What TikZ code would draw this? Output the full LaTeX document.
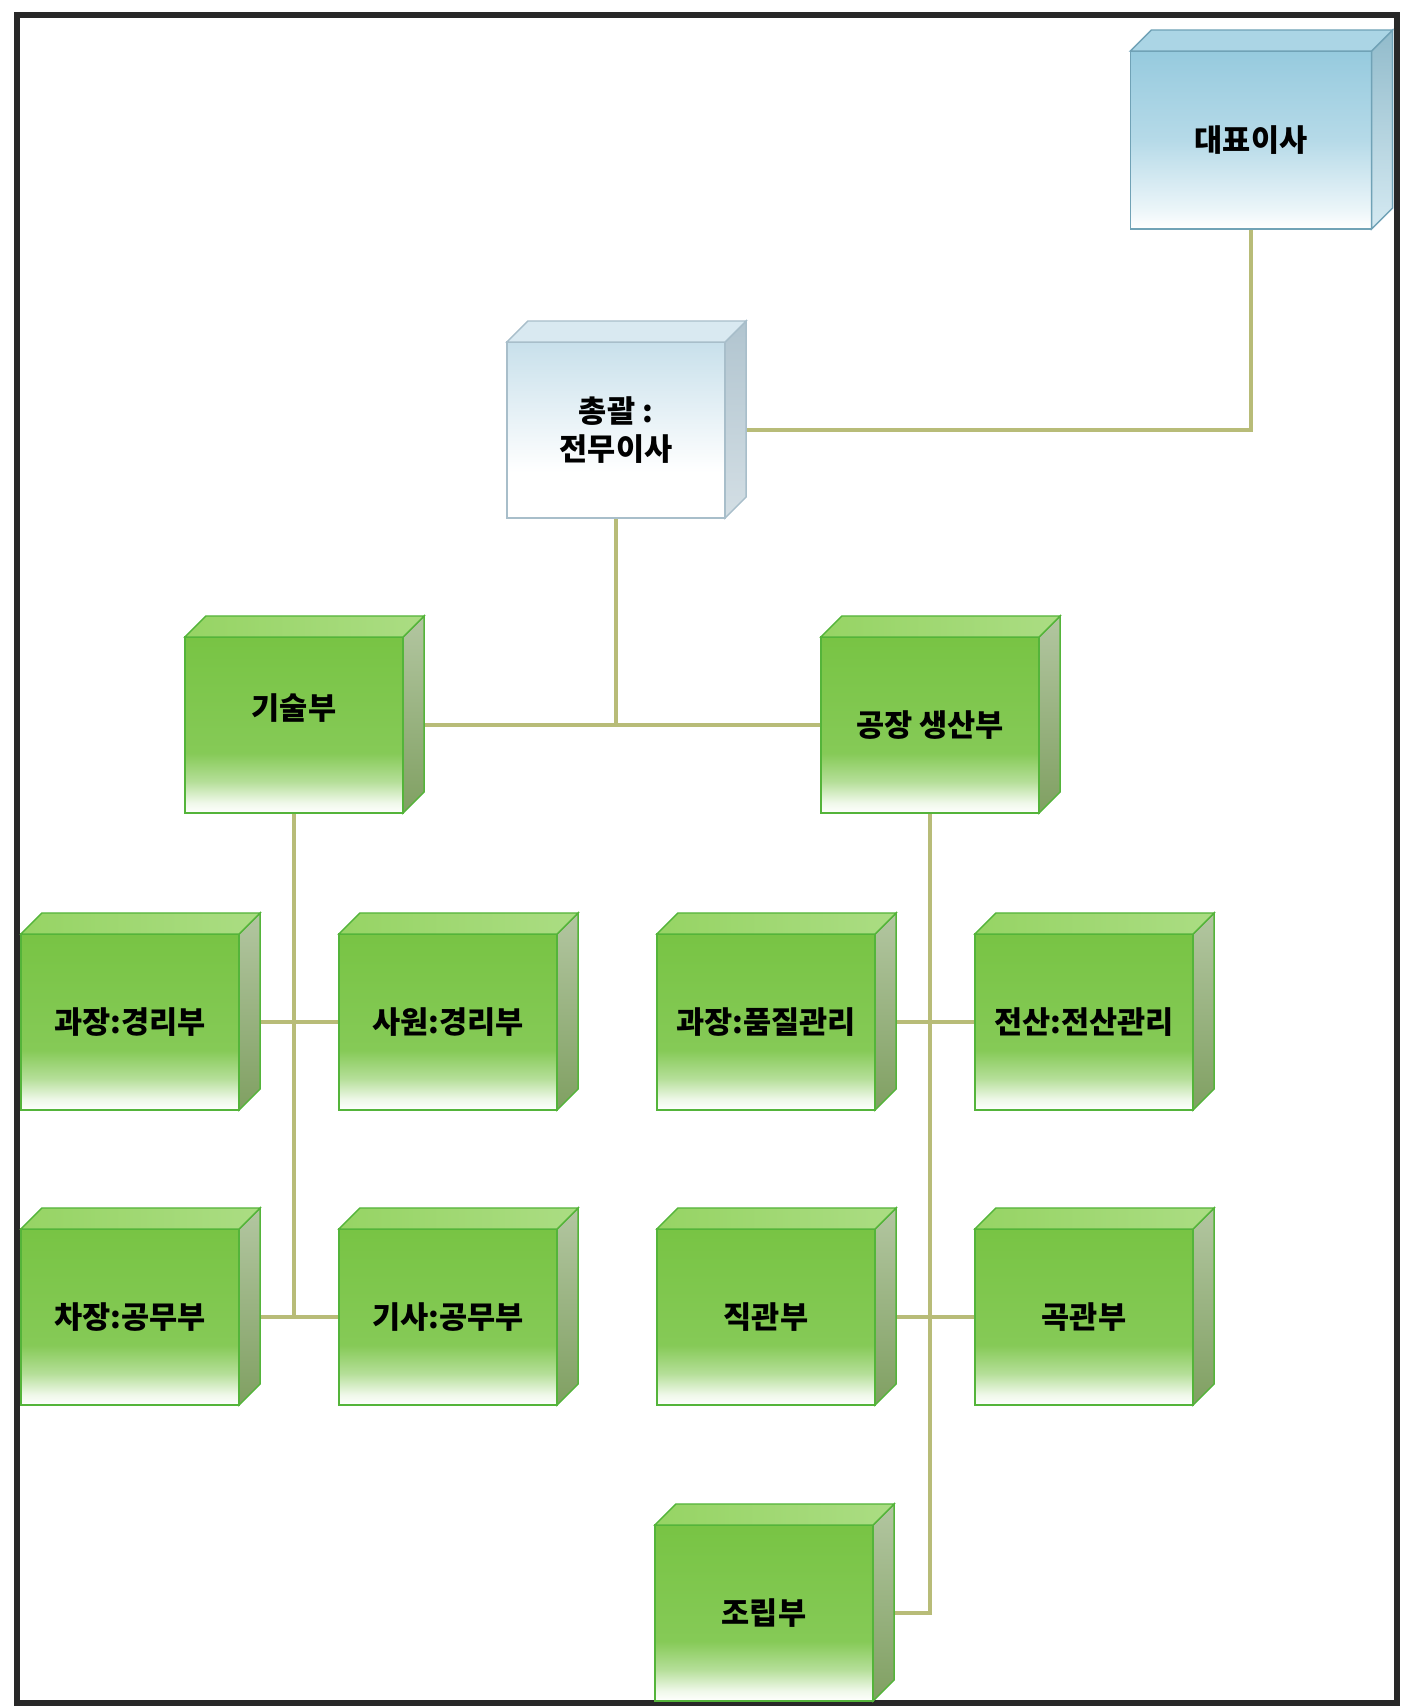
\documentclass[tikz,border=0pt]{standalone}
\usepackage{fontspec}
\setmainfont{Noto Sans CJK KR}
\usetikzlibrary{positioning}

\definecolor{boxgreen}{RGB}{120,196,68}
\definecolor{greenline}{RGB}{84,180,58}
\definecolor{greenside}{RGB}{128,160,98}
\definecolor{greentopc}{RGB}{150,212,100}
\definecolor{ceoblue}{RGB}{150,202,222}
\definecolor{ceoline}{RGB}{112,162,182}
\definecolor{gmblue}{RGB}{200,224,235}
\definecolor{gmline}{RGB}{168,190,202}
\definecolor{linkcol}{RGB}{184,188,120}
\definecolor{framecol}{RGB}{40,40,40}

\pgfdeclareverticalshading{greenface}{100bp}{color(0bp)=(white); color(25bp)=(white); color(28bp)=(boxgreen!12!white); color(34bp)=(boxgreen!55!white); color(42bp)=(boxgreen!90!white); color(75bp)=(boxgreen); color(100bp)=(boxgreen)}
\pgfdeclareverticalshading{ceoface}{100bp}{color(0bp)=(white); color(25bp)=(white); color(31bp)=(ceoblue!20!white); color(50bp)=(ceoblue!70!white); color(75bp)=(ceoblue); color(100bp)=(ceoblue)}
\pgfdeclareverticalshading{gmface}{100bp}{color(0bp)=(white); color(25bp)=(white); color(38bp)=(white); color(75bp)=(gmblue); color(100bp)=(gmblue)}

\pgfdeclarelayer{bg}
\pgfsetlayers{bg,main}

\begin{document}
\begin{tikzpicture}[x=0.01cm, y=0.01cm,
  box/.style={draw, shade, minimum width=2.18cm, minimum height=1.76cm, inner sep=0pt, outer sep=0pt,
    font=\fontsize{8.7}{11}\selectfont\bfseries, align=center},
  green box/.style={box, draw=greenline, line width=0.5pt, shading=greenface},
  ceo box/.style={box, draw=ceoline, line width=0.5pt, shading=ceoface, minimum width=2.41cm, minimum height=1.78cm},
  gm box/.style={box, draw=gmline, line width=0.5pt, shading=gmface},
  side-green/.style={draw=greenline, line width=0.4pt, top color=greenside!60!white, bottom color=greenside},
  top-green/.style={draw=greenline, line width=0.4pt, left color=greentopc, right color=greentopc!80!white},
  side-ceo/.style={draw=ceoline, line width=0.4pt, top color=ceoblue!80!gray, bottom color=ceoblue!40!white},
  top-ceo/.style={draw=ceoline, line width=0.4pt, fill=ceoblue!80!white},
  side-gm/.style={draw=gmline, line width=0.4pt, top color=gmline!90!white, bottom color=gmline!50!white},
  top-gm/.style={draw=gmline, line width=0.4pt, fill=gmblue!70!white},
  link/.style={draw=linkcol, line width=1.4pt},
  frame/.style={draw=framecol, line width=1.6pt}]

\useasboundingbox (0,0) rectangle (1411,-1708);
\draw[frame] (17,-15) rectangle (1397,-1703);

% top of the chart
\node[ceo box] (ceo) at (1251,-140) {대표이사};
\node[gm box] (gm) at (616,-430) {총괄 :\\전무이사};

% departments
\node[green box, text depth=0.36cm] (tech) at (294,-725) {기술부};
\node[green box] (plant) at (930,-725) {공장 생산부};

\node[green box] (acctChief) at (130,-1022) {과장:경리부};
\node[green box] (acctStaff) at (448,-1022) {사원:경리부};
\node[green box] (qualChief) at (766,-1022) {과장:품질관리};
\node[green box] (compMgmt) at (1084,-1022) {전산:전산관리};

\node[green box] (worksDeputy) at (130,-1317) {차장:공무부};
\node[green box] (worksEng) at (448,-1317) {기사:공무부};
\node[green box] (straightPipe) at (766,-1317) {직관부};
\node[green box] (bentPipe) at (1084,-1317) {곡관부};

\node[green box] (assembly) at (764,-1613) {조립부};

% depth faces of the boxes
\foreach \n/\t in {ceo/ceo, gm/gm, tech/green, plant/green, acctChief/green, acctStaff/green,
    qualChief/green, compMgmt/green, worksDeputy/green, worksEng/green,
    straightPipe/green, bentPipe/green, assembly/green}{
  \path[side-\t] (\n.north east) -- ++(21,21) -- ([shift={(21,21)}]\n.south east) -- (\n.south east) -- cycle;
  \path[top-\t] (\n.north west) -- (\n.north east) -- ++(21,21) -- ([shift={(21,21)}]\n.north west) -- cycle;
}

% connectors
\begin{pgfonlayer}{bg}
\draw[link] (ceo.south) |- (gm.east);
\draw[link] (gm.south) -- (gm.south |- tech.east);
\draw[link] (tech.east) -- (plant.west);
\draw[link] (tech.south) -- (tech.south |- worksDeputy.east);
\draw[link] (acctChief.east) -- (acctStaff.west);
\draw[link] (worksDeputy.east) -- (worksEng.west);
\draw[link] (plant.south) |- (assembly.east);
\draw[link] (qualChief.east) -- (compMgmt.west);
\draw[link] (straightPipe.east) -- (bentPipe.west);
\end{pgfonlayer}
\end{tikzpicture}
\end{document}
